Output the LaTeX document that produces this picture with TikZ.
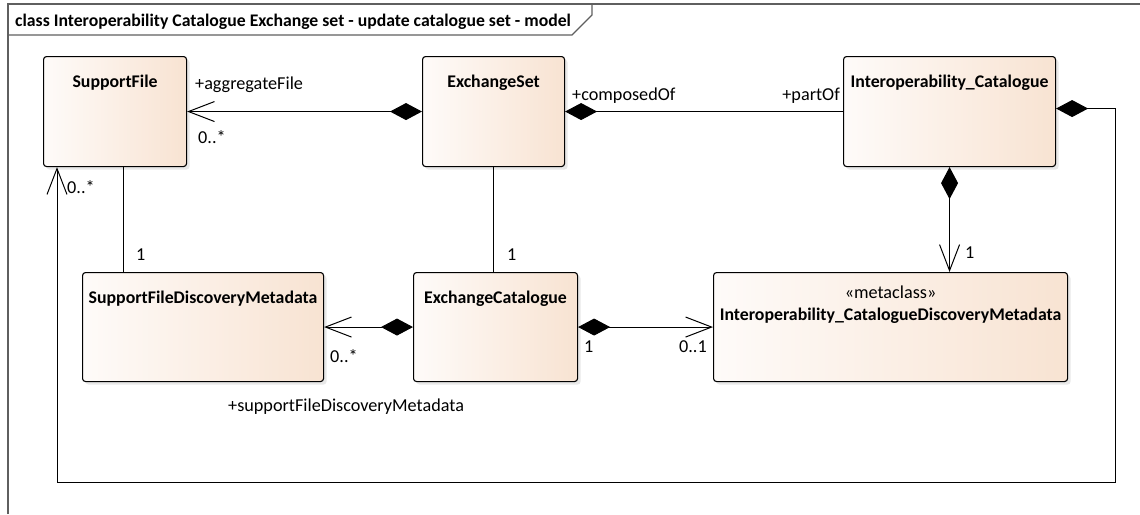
\documentclass[tikz,border=0pt]{standalone}
\usepackage{fontspec}
\setmainfont{Carlito}
\usetikzlibrary{arrows.meta,shadows}
\definecolor{clsleft}{RGB}{254,251,249}
\definecolor{clsright}{RGB}{248,227,210}
\definecolor{framegray}{RGB}{95,95,95}
\begin{document}
\begin{tikzpicture}[x=1pt,y=-1pt,
  cls/.style={draw=black, line width=1.1pt, rounded corners=3pt, left color=clsleft, right color=clsright, drop shadow={shadow xshift=3pt, shadow yshift=-3pt, fill=black!18}, anchor=north west, inner sep=0pt},
  clsname/.style={font=\fontsize{17.8}{21}\selectfont\bfseries, anchor=base, inner sep=0pt},
  role/.style={font=\fontsize{18.2}{21}\selectfont, inner sep=0pt},
  assoc/.style={line width=1pt},
  comp/.style={line width=1pt, {Diamond[length=32pt,width=17pt]}-{Straight Barb[length=26pt,width=20pt]}},
  compline/.style={line width=1pt, {Diamond[length=32pt,width=17pt]}-},
  frame/.style={draw=framegray, line width=1.2pt}]
\useasboundingbox (0,0) rectangle (1140,514);
\draw[frame] (8,514) -- (8,4) -- (1140,4);
\draw[frame] (8,35) -- (572,35) -- (592,15) -- (592,4);
\node[font=\fontsize{17.7}{21}\selectfont\bfseries, anchor=base west, inner sep=0pt] (title) at (15,27) {class Interoperability Catalogue Exchange set - update catalogue set - model};
\node[cls, minimum width=143pt, minimum height=110pt] (sf) at (43,56) {};
\node[cls, minimum width=142pt, minimum height=110pt] (es) at (422,56) {};
\node[cls, minimum width=212pt, minimum height=110pt] (ic) at (843,56) {};
\node[cls, minimum width=241pt, minimum height=109pt] (sfdm) at (82,272) {};
\node[cls, minimum width=164pt, minimum height=109pt] (ec) at (413,272) {};
\node[cls, minimum width=354pt, minimum height=109pt] (icdm) at (713,272) {};
\node[clsname] (sfname) at ([yshift=-31pt]sf.north) {SupportFile};
\node[clsname] (esname) at ([yshift=-31pt]es.north) {ExchangeSet};
\node[clsname] (icname) at ([yshift=-31pt]ic.north) {Interoperability\_Catalogue};
\node[clsname] (sfdmname) at ([yshift=-31pt]sfdm.north) {SupportFileDiscoveryMetadata};
\node[clsname] (ecname) at ([yshift=-31pt]ec.north) {ExchangeCatalogue};
\node[role, anchor=base] (icdmstereo) at ([yshift=-26pt]icdm.north) {«metaclass»};
\node[clsname] (icdmname) at ([yshift=-48pt]icdm.north) {Interoperability\_CatalogueDiscoveryMetadata};
\coordinate (sfdrop) at ([xshift=80pt]sf.south west);
\coordinate (sfhook) at ([xshift=14pt]sf.south west);
\coordinate (loopcorner) at (1115,482);
\draw[comp] (es.west) -- (sf.east);
\draw[compline] (es.east) -- (ic.west);
\draw[assoc] (es.south) -- (es.south |- ec.north);
\draw[assoc] (sfdrop) -- (sfdrop |- sfdm.north);
\draw[comp] (ec.west) -- (sfdm.east);
\draw[comp] (ec.east) -- (icdm.west);
\draw[comp] (ic.south) -- (ic.south |- icdm.north);
\draw[comp] ([yshift=3pt]ic.east) -| (loopcorner) -| (sfhook);
\node[role, anchor=base west] (aggrole) at (195,89) {+aggregateFile};
\node[role, anchor=base west] (aggmult) at (198,143) {0..*};
\node[role, anchor=base west] (comprole) at (572,100) {+composedOf};
\node[role, anchor=base east] (partrole) at (840,100) {+partOf};
\node[role, anchor=base west] (sfmult) at (136,260) {1};
\node[role, anchor=base west] (ecmult) at (507,260) {1};
\node[role, anchor=base west] (sfdmmult) at (330,362) {0..*};
\node[role, anchor=base west] (sfdmrole) at (228,411) {+supportFileDiscoveryMetadata};
\node[role, anchor=base west] (econe) at (584,352) {1};
\node[role, anchor=base east] (icdmmult) at (707,352) {0..1};
\node[role, anchor=base west] (icone) at (965,258) {1};
\node[role, anchor=base west] (loopmult) at (67,193) {0..*};
\end{tikzpicture}
\end{document}
